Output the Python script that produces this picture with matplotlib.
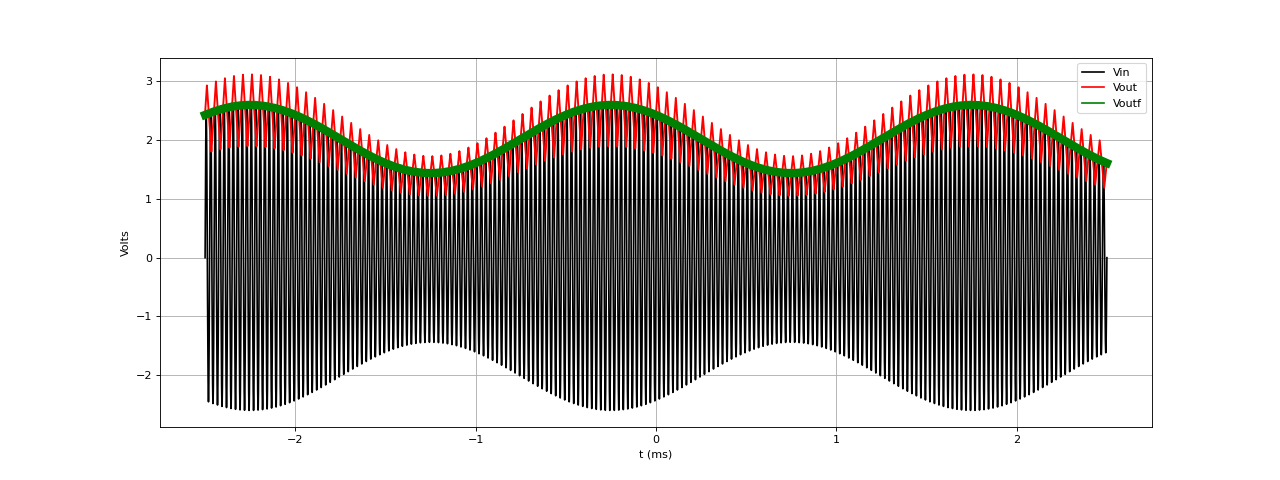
import numpy as np
import matplotlib
matplotlib.use("Agg")
import matplotlib.pyplot as plt

# valores
t_start_ms = -2.5
t_end_ms = 2.5
vin_khz = 40.0           # traços verticais a cada ~0.025 ms
vout_khz = 20.0          # picos do Vout a cada ~0.05 ms
mod_khz = 0.5            # envelope com período de 2 ms
envelope_mean = 2.02     # V
envelope_swing = 0.58    # V
envelope_peak_ms = -2.25 # primeiro máximo do envelope
vout_trough = 0.73       # fração do envelope
vout_peak = 1.20         # fração do envelope

t = np.linspace(t_start_ms, t_end_ms, 40001)
envelope = envelope_mean + envelope_swing * np.cos(2 * np.pi * mod_khz * (t - envelope_peak_ms))

vin = envelope * np.sin(2 * np.pi * vin_khz * (t - t_start_ms))

# Vout: dente triangular entre vale e pico, seguindo o envelope
frac = (vout_khz * (t - t_start_ms) + 0.3) % 1.0
tri = 1 - 2 * np.abs(frac - 0.5)
vout = envelope * (vout_trough + (vout_peak - vout_trough) * tri)
voutf = envelope

fig = plt.figure(figsize=(16, 6), dpi=80)
plt.plot(t, vin, color='black', linewidth=1.5, label='Vin')
plt.plot(t, vout, color='red', linewidth=1.7, label='Vout')
plt.plot(t, voutf, color='green', linewidth=7.5, label='Voutf')
plt.xlabel('t (ms)')
plt.ylabel('Volts')
plt.grid(True)
leg = plt.legend(loc='upper right')
for line in leg.get_lines():
    line.set_linewidth(1.5)
plt.savefig('out.png', dpi=80)
